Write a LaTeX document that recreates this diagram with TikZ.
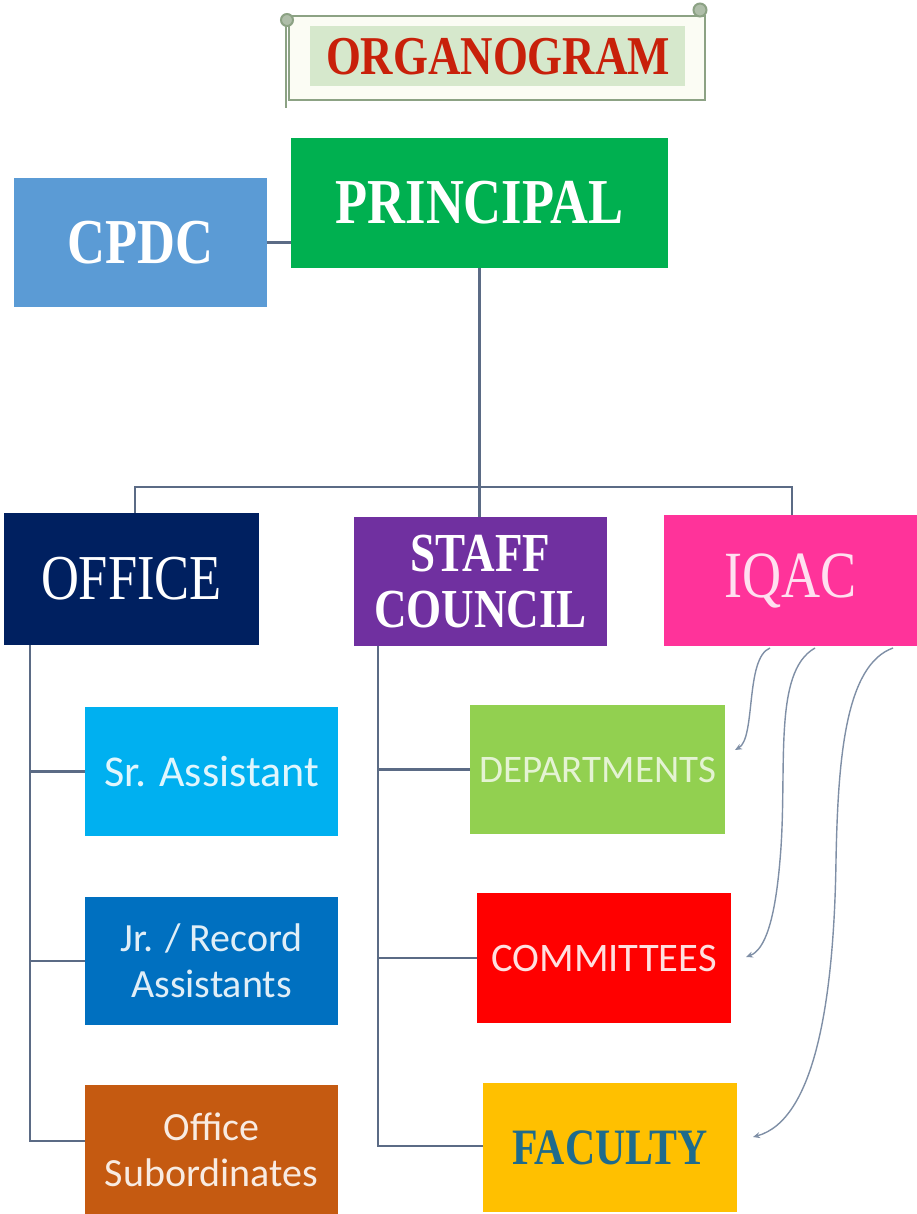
\documentclass[tikz,border=0pt]{standalone}
\usepackage{fontspec}
\usetikzlibrary{arrows.meta}
\newfontfamily\headf{Liberation Serif}[FakeStretch=0.82]
\newfontfamily\bodyf{Carlito}
\definecolor{cpdcc}{HTML}{5B9BD5}
\definecolor{princc}{HTML}{00B050}
\definecolor{officec}{HTML}{002060}
\definecolor{staffc}{HTML}{7030A0}
\definecolor{iqacc}{HTML}{FF339A}
\definecolor{src}{HTML}{00B0F0}
\definecolor{jrc}{HTML}{0070C0}
\definecolor{subc}{HTML}{C55A11}
\definecolor{deptc}{HTML}{92D050}
\definecolor{commc}{HTML}{FF0000}
\definecolor{facc}{HTML}{FFC000}
\definecolor{factext}{HTML}{1E6B8C}
\definecolor{linec}{HTML}{5B6B85}
\definecolor{curvec}{HTML}{7F8FA6}
\definecolor{scrollc}{HTML}{8CA284}
\definecolor{scrollfill}{HTML}{FBFCF4}
\definecolor{titlebg}{HTML}{D6E8CC}
\definecolor{titlec}{HTML}{C8200A}
\begin{document}
\begin{tikzpicture}[x=1pt,y=-1pt,
  box/.style={rectangle, inner sep=0pt, align=center},
  conn/.style={draw=linec, line width=2.8pt},
  iqarrow/.style={draw=curvec, line width=1.4pt, -{Stealth[length=7pt,width=6pt]}}]
\useasboundingbox (0,0) rectangle (917,1214);

% title scroll
\draw[scrollc, line width=2.8pt, fill=scrollfill] (289,16) rectangle (705,100);
\draw[scrollc, line width=2.8pt] (286,22) -- (286,108);
\draw[scrollc, line width=2pt, fill=scrollc!70] (287,20) circle (6pt);
\draw[scrollc, line width=2pt, fill=scrollc!70] (700,10) circle (6.5pt);
\fill[titlebg] (310,26) rectangle (685,86);
\node[box, text=titlec, font=\fontsize{54.7}{60}\selectfont\headf\bfseries] (title) at (498,57) {ORGANOGRAM};

% top level
\node[box, fill=cpdcc, minimum width=253pt, minimum height=129pt, text=white,
  font=\fontsize{64}{70}\selectfont\headf\bfseries] (cpdc) at (140.5,242.5) {CPDC};
\node[box, fill=princc, minimum width=377pt, minimum height=130pt, text=white,
  font=\fontsize{64}{70}\selectfont\headf\bfseries] (princ) at (479.5,203) {PRINCIPAL};

% second level
\node[box, fill=officec, minimum width=255pt, minimum height=132pt, text=white,
  font=\fontsize{64}{70}\selectfont\headf] (office) at (131.5,579) {OFFICE};
\node[box, fill=staffc, minimum width=253pt, minimum height=129pt, text=white,
  font=\fontsize{55}{56}\selectfont\headf\bfseries] (staff) at (480.5,581.5) {STAFF\\COUNCIL};
\node[box, fill=iqacc, minimum width=253pt, minimum height=131pt, text=white!85!iqacc,
  font=\fontsize{66}{70}\selectfont\headf] (iqac) at (790.5,580.5) {IQAC};

% office children
\node[box, fill=src, minimum width=253pt, minimum height=129pt, text=white!88!src,
  font=\fontsize{44}{46}\selectfont\bodyf] (sr) at (211.5,771.5) {Sr. Assistant};
\node[box, fill=jrc, minimum width=253pt, minimum height=128pt, text=white!88!jrc,
  font=\fontsize{40}{46}\selectfont\bodyf] (jr) at (211.5,961) {Jr. / Record\\Assistants};
\node[box, fill=subc, minimum width=253pt, minimum height=129pt, text=white!88!subc,
  font=\fontsize{40}{46}\selectfont\bodyf] (sub) at (211.5,1149.5) {Office\\Subordinates};

% staff council children
\node[box, fill=deptc, minimum width=255pt, minimum height=129pt, text=white!75!deptc,
  font=\fontsize{39}{44}\selectfont\bodyf] (dept) at (597.5,769.5) {DEPARTMENTS};
\node[box, fill=commc, minimum width=254pt, minimum height=130pt, text=white!88!commc,
  font=\fontsize{40.5}{44}\selectfont\bodyf] (comm) at (604,958) {COMMITTEES};
\node[box, fill=facc, minimum width=254pt, minimum height=129pt, text=factext,
  font=\fontsize{51}{56}\selectfont\headf\bfseries] (fac) at (610,1147.5) {FACULTY};

% connectors
\coordinate (bus) at (480,487);
\coordinate (ospine) at (30,645);
\coordinate (sspine) at (378,646);
\coordinate (subjoin) at (85,1141);
\coordinate (facjoin) at (483,1146);

\draw[conn] (cpdc.east) -- (cpdc.east -| princ.west);
\draw[conn] (princ.south) -- (princ.south |- staff.north);
\draw[conn] (office.north -| 135,0) |- (bus) -| (iqac.north -| 792,0);

\draw[conn] (ospine) |- (subjoin);
\draw[conn] (sr.west) -- (sr.west -| ospine);
\draw[conn] (jr.west) -- (jr.west -| ospine);

\draw[conn] (sspine) |- (facjoin);
\draw[conn] (dept.west) -- (dept.west -| sspine);
\draw[conn] (comm.west) -- (comm.west -| sspine);

% IQAC curved arrows
\coordinate (q1) at (770,648);
\coordinate (q2) at (815,648);
\coordinate (q3) at (893,648);
\coordinate (t1) at (735,750);
\coordinate (t2) at (746,957);
\coordinate (t3) at (753,1137);
\draw[iqarrow] (q1) .. controls (745,658) and (756,738) .. (t1);
\draw[iqarrow] (q2) .. controls (772,672) and (788,770) .. (780,860) .. controls (775,920) and (765,950) .. (t2);
\draw[iqarrow] (q3) .. controls (845,665) and (838,760) .. (836,860) .. controls (834,1000) and (815,1120) .. (t3);
\end{tikzpicture}
\end{document}
